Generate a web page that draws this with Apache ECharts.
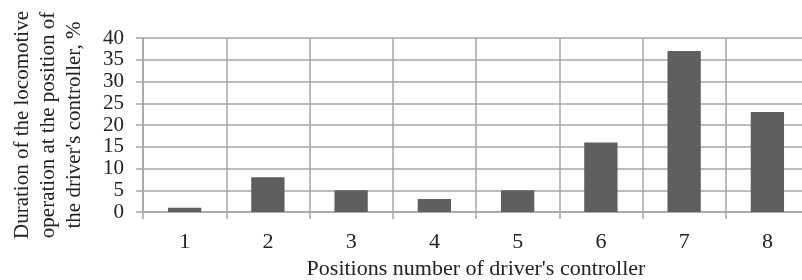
<!DOCTYPE html>
<html>
<head>
<meta charset="utf-8">
<script src="https://cdn.jsdelivr.net/npm/echarts@6/dist/echarts.min.js"></script>
<style>
  html, body { margin: 0; padding: 0; background: #ffffff; }
  #chart { width: 802px; height: 280px; }
</style>
</head>
<body>
<div id="chart"></div>
<script>
// positions of the driver's controller
let positions = ["1", "2", "3", "4", "5", "6", "7", "8"];
// share of operating time, %
let durationPercent = [1, 8, 5, 3, 5, 16, 37, 23];
let yTicks = [0, 5, 10, 15, 20, 25, 30, 35, 40];

let myChart = echarts.init(document.getElementById("chart"), null, { renderer: "canvas" });

let fontFamily = "'Liberation Serif', 'Times New Roman', serif";
let gridColor = "#a6a6a6";

let option = {
  backgroundColor: "#ffffff",
  animation: false,
  grid: {
    left: 143,
    top: 38,
    width: 666,
    height: 174,
    containLabel: false,
    outerBoundsMode: "none",
  },
  xAxis: {
    type: "category",
    data: positions,
    boundaryGap: true,
    name: "Positions number of driver's controller",
    nameLocation: "middle",
    nameGap: 45,
    nameTextStyle: { fontFamily: fontFamily, fontSize: 22, color: "#222" },
    axisLine: { show: true, lineStyle: { color: gridColor, width: 1.5 } },
    axisTick: { show: true, length: 7, lineStyle: { color: gridColor, width: 1.5 } },
    axisLabel: { margin: 19, fontFamily: fontFamily, fontSize: 22, color: "#222" },
    splitLine: { show: true, lineStyle: { color: gridColor, width: 1.5 } },
  },
  yAxis: {
    type: "value",
    min: 0,
    max: yTicks[yTicks.length - 1],
    interval: 5,
    name: "Duration of the locomotive\noperation at the position of\nthe driver's controller, %",
    nameLocation: "middle",
    nameRotate: 90,
    nameGap: 56,
    nameTextStyle: { fontFamily: fontFamily, fontSize: 21, color: "#222", lineHeight: 26, align: "center" },
    axisLine: { show: true, lineStyle: { color: gridColor, width: 1.5 } },
    axisTick: { show: true, length: 7, lineStyle: { color: gridColor, width: 1.5 } },
    axisLabel: {
      margin: 19,
      fontFamily: fontFamily,
      fontSize: 21,
      lineHeight: 16,
      color: "#222",
      showMinLabel: true,
      showMaxLabel: true,
      hideOverlap: false,
    },
    splitLine: { show: true, lineStyle: { color: gridColor, width: 1.5 } },
  },
  series: [
    {
      type: "bar",
      data: durationPercent,
      barWidth: "40%",
      itemStyle: { color: "#5f5f5f" },
    },
  ],
};
myChart.setOption(option);
</script>
</body>
</html>
